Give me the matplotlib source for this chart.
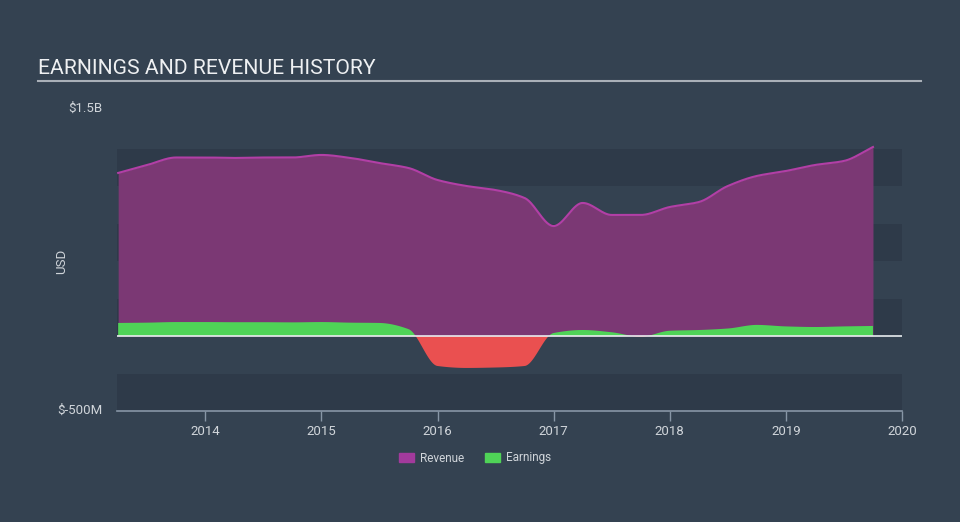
import numpy as np
import matplotlib
matplotlib.use("Agg")
import matplotlib.pyplot as plt
from matplotlib.patches import Patch

plt.rcParams['font.family'] = ['Roboto', 'DejaVu Sans']

# Data (billions USD), quarterly
dates = [2013.25, 2013.5, 2013.75, 2014.0, 2014.25, 2014.5, 2014.75, 2015.0, 2015.25,
         2015.5, 2015.75, 2016.0, 2016.25, 2016.5, 2016.75, 2017.0, 2017.25, 2017.5,
         2017.75, 2018.0, 2018.25, 2018.5, 2018.75, 2019.0, 2019.25, 2019.5, 2019.75]
revenue = [1.087, 1.14, 1.19, 1.19, 1.187, 1.19, 1.19, 1.207, 1.187,
           1.153, 1.12, 1.04, 1.00, 0.973, 0.92, 0.733, 0.887, 0.807,
           0.807, 0.86, 0.893, 1.00, 1.067, 1.10, 1.14, 1.167, 1.26]
earnings = [0.087, 0.089, 0.093, 0.093, 0.092, 0.092, 0.091, 0.093, 0.089,
            0.087, 0.046, -0.20, -0.213, -0.21, -0.20, 0.02, 0.04, 0.025,
            -0.005, 0.035, 0.04, 0.05, 0.074, 0.064, 0.06, 0.064, 0.067]
year_ticks = [2014, 2015, 2016, 2017, 2018, 2019, 2020]
legend_labels = ["Revenue", "Earnings"]


def pchip(x, y, xn):
    x = np.asarray(x, float); y = np.asarray(y, float)
    h = np.diff(x); d = np.diff(y) / h
    m = np.zeros_like(y)
    for k in range(1, len(x) - 1):
        if d[k - 1] * d[k] > 0:
            w1 = 2 * h[k] + h[k - 1]; w2 = h[k] + 2 * h[k - 1]
            m[k] = (w1 + w2) / (w1 / d[k - 1] + w2 / d[k])
    m[0] = d[0]; m[-1] = d[-1]
    idx = np.clip(np.searchsorted(x, xn) - 1, 0, len(x) - 2)
    t = (xn - x[idx]) / h[idx]
    h00 = 2 * t**3 - 3 * t**2 + 1; h10 = t**3 - 2 * t**2 + t
    h01 = -2 * t**3 + 3 * t**2; h11 = t**3 - t**2
    return h00 * y[idx] + h10 * h[idx] * m[idx] + h01 * y[idx + 1] + h11 * h[idx] * m[idx + 1]


BG = '#344251'
BAND = '#2e3a49'
TXT = '#d0d5da'
fig = plt.figure(figsize=(9.6, 5.22), dpi=100, facecolor=BG)
ax = fig.add_axes([117 / 960, (522 - 411) / 522, (902 - 117) / 960, 300 / 522])
ax.set_facecolor(BG)

for lo in [-0.5, 0.0, 0.5, 1.0]:
    ax.axhspan(lo, lo + 0.25, color=BAND, zorder=0, lw=0)

xs = np.linspace(dates[0], dates[-1], 800)
rev_s = pchip(dates, revenue, xs)
earn_s = pchip(dates, earnings, xs)

ax.fill_between(xs, 0, rev_s, color='#7b3874', lw=0, zorder=1)
ax.plot(xs, rev_s, color='#b23fa6', lw=1.5, zorder=2)
ax.fill_between(xs, 0, earn_s, where=earn_s >= 0, interpolate=True, color='#4fd357', lw=0, zorder=3)
ax.fill_between(xs, 0, earn_s, where=earn_s <= 0, interpolate=True, color='#ea5050', lw=0, zorder=3)
ax.axhline(0, color='#e8ecef', lw=1.2, zorder=4)

ax.set_xlim(2013.24, 2020.0)
ax.set_ylim(-0.5, 1.5)
ax.set_yticks([])
ax.set_xticks(year_ticks)
ax.set_xticklabels([str(y) for y in year_ticks], color=TXT, fontsize=9.5)
ax.tick_params(axis='x', length=7, color='#8796a6', width=1, pad=3)
for s in ['left', 'right', 'top']:
    ax.spines[s].set_visible(False)
ax.spines['bottom'].set_color('#8796a6')
ax.spines['bottom'].set_linewidth(1.2)

fig.text(102 / 960, 1 - 108 / 522, '$1.5B', ha='right', va='center', color=TXT, fontsize=9.5)
fig.text(102 / 960, 1 - 410 / 522, '$-500M', ha='right', va='center', color=TXT, fontsize=9.5)
fig.text(62 / 960, 1 - 261 / 522, 'USD', ha='center', va='center', rotation=90, color=TXT, fontsize=9.5)

fig.text(38 / 960, 1 - 68 / 522, 'EARNINGS AND REVENUE HISTORY', ha='left', va='center',
         color='#eef0f2', fontsize=15.2)
fig.add_artist(plt.Line2D([38 / 960, 921 / 960], [1 - 81 / 522] * 2, color='#a9b0b8', lw=1.5))

handles = [Patch(color='#a23a9c'), Patch(color='#4fd357')]
fig.legend(handles, legend_labels, loc='center', bbox_to_anchor=(475 / 960, 1 - 458 / 522), ncol=2,
           frameon=False, fontsize=8.5, labelcolor=TXT, handlelength=1.25, handleheight=0.9,
           columnspacing=1.8, handletextpad=0.5)

fig.savefig('out.png', dpi=100, facecolor=BG)
